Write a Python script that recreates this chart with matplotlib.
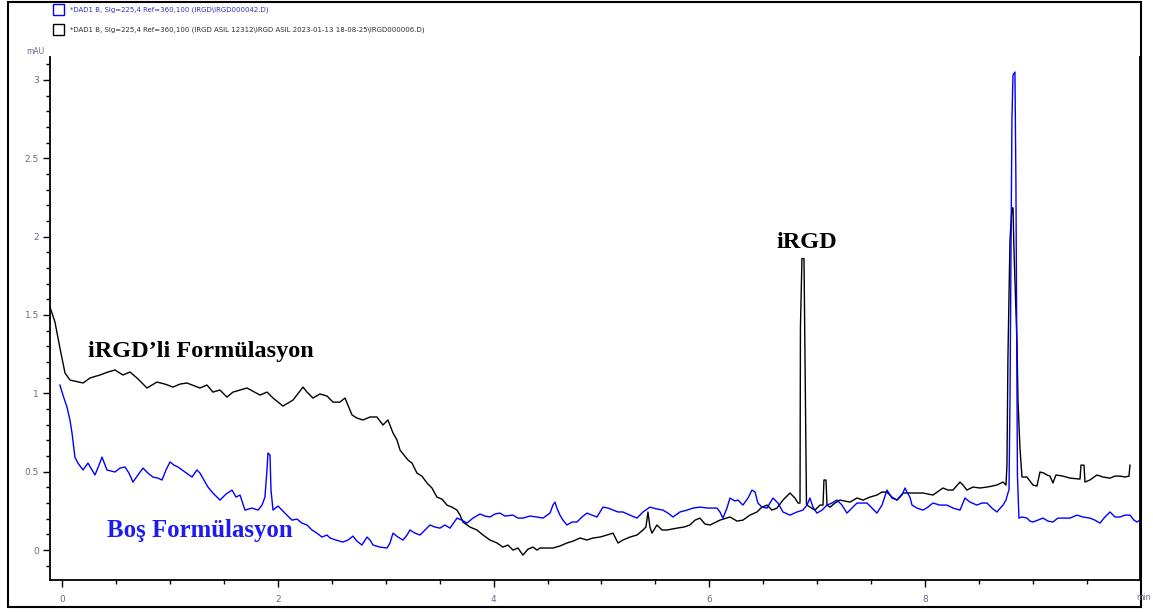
import matplotlib
matplotlib.use("Agg")
import matplotlib.pyplot as plt
from matplotlib.patches import Rectangle
from matplotlib.ticker import MultipleLocator, FixedLocator

# Retention time (min) and absorbance (mAU) of the iRGD-loaded formulation
irgd_time = [
    -0.111, -0.065, -0.019, 0.028, 0.074, 0.195, 0.260, 0.352, 0.426, 0.491,
    0.565, 0.630, 0.695, 0.788, 0.880, 0.955, 1.029, 1.094, 1.158, 1.279,
    1.344, 1.399, 1.464, 1.529, 1.585, 1.715, 1.835, 1.900, 1.956, 2.048,
    2.141, 2.234, 2.271, 2.326, 2.391, 2.456, 2.512, 2.576, 2.623, 2.688,
    2.734, 2.790, 2.855, 2.919, 2.975, 3.021, 3.068, 3.105, 3.133, 3.170,
    3.207, 3.244, 3.290, 3.336, 3.383, 3.429, 3.475, 3.522, 3.568, 3.614,
    3.661, 3.689, 3.716, 3.781, 3.846, 3.902, 3.967, 4.032, 4.087, 4.133,
    4.180, 4.226, 4.272, 4.319, 4.365, 4.402, 4.430, 4.495, 4.550, 4.615,
    4.680, 4.736, 4.801, 4.866, 4.921, 4.986, 5.051, 5.107, 5.153, 5.199,
    5.264, 5.329, 5.385, 5.412, 5.431, 5.449, 5.468, 5.514, 5.561, 5.607,
    5.700, 5.765, 5.820, 5.867, 5.913, 5.959, 6.006, 6.098, 6.191, 6.256,
    6.311, 6.376, 6.441, 6.487, 6.534, 6.580, 6.627, 6.682, 6.747, 6.793,
    6.821, 6.840, 6.844, 6.858, 6.877, 6.886, 6.900, 6.932, 6.979, 7.025,
    7.053, 7.062, 7.081, 7.090, 7.118, 7.164, 7.210, 7.303, 7.368, 7.424,
    7.488, 7.553, 7.600, 7.646, 7.692, 7.739, 7.794, 7.831, 7.887, 7.980,
    8.072, 8.165, 8.211, 8.258, 8.323, 8.350, 8.387, 8.443, 8.508, 8.573,
    8.619, 8.665, 8.721, 8.749, 8.758, 8.767, 8.786, 8.804, 8.814, 8.823,
    8.832, 8.851, 8.860, 8.878, 8.897, 8.943, 8.999, 9.036, 9.064, 9.101,
    9.129, 9.157, 9.184, 9.212, 9.277, 9.342, 9.435, 9.444, 9.472, 9.481,
    9.527, 9.592, 9.648, 9.713, 9.759, 9.805, 9.852, 9.889, 9.898,
]
irgd_mau = [
    1.551, 1.455, 1.289, 1.130, 1.085, 1.066, 1.098, 1.117, 1.136, 1.149,
    1.117, 1.136, 1.098, 1.034, 1.072, 1.059, 1.040, 1.059, 1.066, 1.034,
    1.053, 1.008, 1.021, 0.976, 1.008, 1.034, 0.989, 1.008, 0.970, 0.919,
    0.957, 1.040, 1.008, 0.970, 0.996, 0.983, 0.944, 0.944, 0.970, 0.862,
    0.842, 0.830, 0.849, 0.849, 0.798, 0.830, 0.747, 0.702, 0.638, 0.606,
    0.574, 0.555, 0.491, 0.472, 0.428, 0.396, 0.338, 0.325, 0.287, 0.274,
    0.255, 0.223, 0.179, 0.147, 0.128, 0.096, 0.064, 0.045, 0.019, 0.032,
    0.000, 0.013, -0.032, 0.006, 0.019, 0.000, 0.013, 0.013, 0.013, 0.026,
    0.045, 0.057, 0.077, 0.064, 0.077, 0.083, 0.096, 0.108, 0.045, 0.064,
    0.083, 0.096, 0.128, 0.147, 0.243, 0.147, 0.108, 0.160, 0.128, 0.128,
    0.140, 0.147, 0.160, 0.191, 0.204, 0.166, 0.160, 0.191, 0.211, 0.185,
    0.191, 0.223, 0.243, 0.274, 0.287, 0.255, 0.268, 0.319, 0.364, 0.332,
    0.300, 0.300, 1.420, 1.860, 1.860, 1.220, 0.290, 0.274, 0.255, 0.287,
    0.287, 0.447, 0.447, 0.287, 0.274, 0.300, 0.319, 0.306, 0.332, 0.319,
    0.338, 0.351, 0.370, 0.370, 0.338, 0.319, 0.364, 0.364, 0.364, 0.364,
    0.351, 0.396, 0.383, 0.383, 0.434, 0.415, 0.383, 0.402, 0.396, 0.402,
    0.408, 0.415, 0.434, 0.415, 0.542, 1.225, 1.978, 2.183, 2.183, 1.915,
    1.723, 1.321, 0.957, 0.657, 0.466, 0.466, 0.415, 0.408, 0.498, 0.491,
    0.479, 0.472, 0.428, 0.479, 0.472, 0.459, 0.453, 0.542, 0.542, 0.434,
    0.447, 0.479, 0.466, 0.459, 0.472, 0.472, 0.466, 0.472, 0.542,
]

# Retention time (min) and absorbance (mAU) of the blank formulation
blank_time = [
    -0.019, 0.009, 0.046, 0.074, 0.093, 0.120, 0.148, 0.195, 0.241, 0.278,
    0.306, 0.343, 0.371, 0.399, 0.417, 0.491, 0.538, 0.584, 0.621, 0.658,
    0.704, 0.751, 0.797, 0.843, 0.890, 0.927, 0.964, 1.001, 1.038, 1.075,
    1.140, 1.205, 1.251, 1.279, 1.316, 1.353, 1.399, 1.464, 1.520, 1.576,
    1.613, 1.650, 1.696, 1.761, 1.817, 1.854, 1.881, 1.900, 1.909, 1.928,
    1.937, 1.956, 2.002, 2.039, 2.085, 2.132, 2.178, 2.224, 2.271, 2.317,
    2.363, 2.410, 2.456, 2.484, 2.539, 2.604, 2.651, 2.697, 2.734, 2.780,
    2.827, 2.855, 2.883, 2.947, 3.012, 3.040, 3.068, 3.114, 3.160, 3.198,
    3.225, 3.272, 3.318, 3.364, 3.411, 3.457, 3.503, 3.549, 3.596, 3.661,
    3.707, 3.753, 3.809, 3.874, 3.920, 3.967, 4.013, 4.059, 4.106, 4.180,
    4.226, 4.272, 4.337, 4.402, 4.458, 4.523, 4.550, 4.569, 4.587, 4.615,
    4.643, 4.680, 4.727, 4.773, 4.819, 4.866, 4.912, 4.958, 5.014, 5.060,
    5.107, 5.153, 5.199, 5.264, 5.329, 5.385, 5.449, 5.514, 5.570, 5.616,
    5.663, 5.728, 5.793, 5.848, 5.913, 5.987, 6.071, 6.098, 6.126, 6.163,
    6.191, 6.237, 6.265, 6.311, 6.358, 6.395, 6.423, 6.450, 6.487, 6.534,
    6.562, 6.589, 6.636, 6.682, 6.747, 6.812, 6.867, 6.905, 6.932, 6.960,
    6.997, 7.044, 7.090, 7.136, 7.183, 7.229, 7.275, 7.321, 7.368, 7.414,
    7.461, 7.507, 7.553, 7.600, 7.646, 7.692, 7.739, 7.785, 7.813, 7.831,
    7.859, 7.878, 7.924, 7.980, 8.026, 8.072, 8.137, 8.202, 8.258, 8.323,
    8.369, 8.415, 8.480, 8.526, 8.573, 8.619, 8.665, 8.721, 8.749, 8.767,
    8.777, 8.786, 8.795, 8.804, 8.814, 8.832, 8.841, 8.851, 8.855, 8.869,
    8.897, 8.943, 8.971, 8.999, 9.045, 9.092, 9.138, 9.184, 9.230, 9.277,
    9.342, 9.407, 9.462, 9.527, 9.573, 9.620, 9.666, 9.713, 9.759, 9.805,
    9.852, 9.898, 9.935, 9.963, 9.991,
]
blank_mau = [
    1.053, 0.989, 0.913, 0.830, 0.747, 0.593, 0.555, 0.511, 0.555, 0.511,
    0.479, 0.542, 0.593, 0.542, 0.511, 0.498, 0.523, 0.530, 0.491, 0.434,
    0.479, 0.523, 0.491, 0.466, 0.459, 0.447, 0.511, 0.562, 0.542, 0.530,
    0.498, 0.466, 0.511, 0.491, 0.447, 0.402, 0.364, 0.319, 0.357, 0.383,
    0.338, 0.351, 0.255, 0.268, 0.255, 0.287, 0.338, 0.511, 0.619, 0.606,
    0.383, 0.255, 0.281, 0.255, 0.223, 0.191, 0.198, 0.172, 0.160, 0.128,
    0.108, 0.083, 0.096, 0.077, 0.064, 0.051, 0.064, 0.089, 0.057, 0.032,
    0.083, 0.064, 0.032, 0.019, 0.013, 0.045, 0.108, 0.083, 0.064, 0.096,
    0.128, 0.108, 0.096, 0.128, 0.160, 0.147, 0.140, 0.160, 0.140, 0.204,
    0.191, 0.172, 0.204, 0.230, 0.217, 0.211, 0.230, 0.236, 0.217, 0.223,
    0.204, 0.204, 0.217, 0.211, 0.204, 0.236, 0.287, 0.306, 0.268, 0.223,
    0.191, 0.160, 0.179, 0.179, 0.211, 0.236, 0.223, 0.211, 0.274, 0.268,
    0.255, 0.243, 0.243, 0.223, 0.204, 0.243, 0.274, 0.262, 0.255, 0.236,
    0.211, 0.243, 0.255, 0.268, 0.274, 0.268, 0.268, 0.243, 0.204, 0.268,
    0.332, 0.313, 0.319, 0.287, 0.332, 0.383, 0.370, 0.300, 0.274, 0.268,
    0.300, 0.332, 0.300, 0.243, 0.223, 0.243, 0.255, 0.287, 0.332, 0.274,
    0.236, 0.255, 0.287, 0.300, 0.319, 0.287, 0.236, 0.268, 0.300, 0.300,
    0.300, 0.268, 0.236, 0.287, 0.383, 0.332, 0.319, 0.351, 0.396, 0.370,
    0.338, 0.287, 0.268, 0.255, 0.274, 0.300, 0.287, 0.287, 0.268, 0.255,
    0.332, 0.306, 0.287, 0.300, 0.300, 0.268, 0.243, 0.287, 0.319, 0.364,
    0.383, 0.957, 1.806, 2.744, 3.031, 3.050, 2.348, 0.957, 0.479, 0.204,
    0.211, 0.204, 0.185, 0.179, 0.191, 0.204, 0.185, 0.179, 0.204, 0.204,
    0.204, 0.223, 0.211, 0.204, 0.191, 0.172, 0.211, 0.243, 0.211, 0.211,
    0.223, 0.223, 0.191, 0.179, 0.191,
]

y_ticks = [0, 0.5, 1, 1.5, 2, 2.5, 3]
y_labels = ["0", "0.5", "1", "1.5", "2", "2.5", "3"]
x_ticks = [0, 2, 4, 6, 8]
x_labels = ["0", "2", "4", "6", "8"]

legend_blank = "*DAD1 B, Sig=225,4 Ref=360,100 (IRGD\\IRGD000042.D)"
legend_irgd = ("*DAD1 B, Sig=225,4 Ref=360,100 (IRGD ASIL 12312\\IRGD ASIL "
               "2023-01-13 18-08-25\\IRGD000006.D)")

W, H = 1153, 612


def px(x, y):
    """Pixel position (from top-left) to figure fraction."""
    return x / W, 1 - y / H


fig = plt.figure(figsize=(W / 100, H / 100), dpi=100)
fig.patch.set_facecolor("white")

# outer frame of the report page
fig.patches.append(Rectangle(px(8, 607), (1141 - 8) / W, (607 - 2) / H,
                             transform=fig.transFigure, fill=False,
                             edgecolor="black", linewidth=1.5))

ax = fig.add_axes([50 / W, 1 - 580 / H, (1140 - 50) / W, (580 - 57) / H])
ax.plot(irgd_time, irgd_mau, color="black", linewidth=1.0)
ax.plot(blank_time, blank_mau, color="#0000ff", linewidth=1.0)

ax.set_xlim(-0.111, 9.991)
ax.set_ylim(-0.191, 3.146)

ax.spines["top"].set_visible(False)
for side in ("left", "bottom", "right"):
    ax.spines[side].set_linewidth(1.3)

tick_color = "#6a6a8a"
ax.yaxis.set_major_locator(FixedLocator(y_ticks))
ax.set_yticklabels(y_labels)
ax.yaxis.set_minor_locator(MultipleLocator(0.1))
ax.xaxis.set_major_locator(FixedLocator(x_ticks))
ax.set_xticklabels(x_labels)
ax.xaxis.set_minor_locator(MultipleLocator(0.5))
ax.tick_params(axis="both", which="major", length=5, width=1.0,
               labelsize=6.5, labelcolor=tick_color, direction="out")
ax.tick_params(axis="both", which="minor", length=3, width=1.0, direction="out")
ax.tick_params(axis="y", pad=3)
ax.tick_params(axis="x", pad=6)
ax.tick_params(right=False, which="both")

fig.text(*px(35, 52), "mAU", fontsize=5.5, color=tick_color,
         ha="center", va="center")
fig.text(*px(1136, 598), "min", fontsize=5.5, color=tick_color,
         ha="left", va="center")

serif = ["Liberation Serif", "DejaVu Serif"]
fig.text(*px(88, 352), "iRGD\u2019li Formülasyon", family=serif, weight="bold",
         fontsize=17.5, color="black", ha="left", va="center")
fig.text(*px(107, 531), "Boş Formülasyon", family=serif, weight="bold",
         fontsize=17.8, color="#1c1cf0", ha="left", va="center")
fig.text(*px(776, 243), "iRGD", family=serif, weight="bold",
         fontsize=17.5, color="black", ha="left", va="center")

# trace legend
fig.patches.append(Rectangle(px(53, 15), 11 / W, 11 / H, transform=fig.transFigure,
                             fill=False, edgecolor="#0000ff", linewidth=1.0))
fig.patches.append(Rectangle(px(53, 35), 11 / W, 11 / H, transform=fig.transFigure,
                             fill=False, edgecolor="black", linewidth=1.0))
fig.text(*px(70, 10), legend_blank, fontsize=5.0, color="#3030c0",
         ha="left", va="center")
fig.text(*px(70, 30), legend_irgd, fontsize=5.0, color="#303030",
         ha="left", va="center")

fig.savefig("out.png", dpi=100)
